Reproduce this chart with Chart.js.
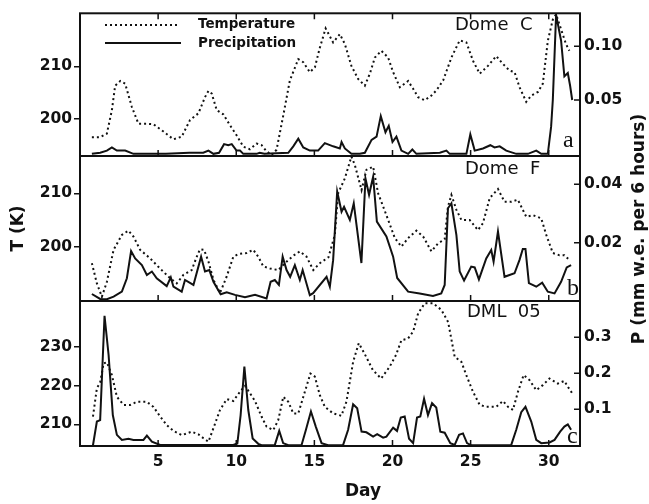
<!DOCTYPE html>
<html>
<head>
<meta charset="utf-8">
<script src="https://cdn.jsdelivr.net/npm/chart.js@4.4.1/dist/chart.umd.min.js"></script>
<style>
  html, body { margin: 0; padding: 0; background: #fff; }
  #wrap { position: relative; width: 649px; height: 504px; }
  #wrap canvas { position: absolute; left: 0; top: 0; }
</style>
</head>
<body>
<div id="wrap">
  <canvas id="panelA" width="649" height="504"></canvas>
  <canvas id="panelB" width="649" height="504"></canvas>
  <canvas id="panelC" width="649" height="504"></canvas>
</div>
<script>
// Three stacked station panels sharing the day axis:
// 6-hourly temperature (dotted, left axis, K) and precipitation (solid, right axis).

const dayTicks = [5, 10, 15, 20, 25, 30];

// --- Dome C ---
const domeCTempDays = [0.76, 1.29, 1.72, 2.04, 2.25, 2.58, 2.89, 3.32, 3.74, 4.28, 4.70, 5.34, 5.98, 6.51, 7.04, 7.58, 8.00, 8.22, 8.43, 8.75,
  9.17, 9.60, 10.02, 10.45, 10.87, 11.30, 11.62, 11.94, 12.26, 12.58, 13.01, 13.43, 13.97, 14.29, 14.71, 15.03, 15.35, 15.72, 16.20, 16.63,
  16.95, 17.37, 17.80, 18.23, 18.55, 18.87, 19.29, 19.72, 20.04, 20.47, 21.00, 21.32, 21.64, 22.06, 22.49, 22.81, 23.24, 23.77, 24.30, 24.73,
  25.15, 25.58, 26.11, 26.64, 27.06, 27.49, 27.81, 28.13, 28.56, 28.88, 29.31, 29.62, 29.94, 30.26, 30.47, 30.89, 31.10, 31.32];
const domeCTemp = [196.4, 196.4, 197.1, 201.6, 206.3, 207.2, 206.7, 202.2, 199.0, 199.0, 198.9, 197.5, 196.0, 196.5, 199.7, 201.0, 204.1, 205.3, 204.8, 201.6,
  200.8, 198.7, 196.8, 194.6, 194.1, 195.2, 194.9, 193.7, 193.0, 194.0, 200.6, 207.3, 211.4, 210.8, 208.9, 209.8, 213.6, 217.3, 214.6, 216.2,
  214.3, 210.1, 207.6, 206.3, 208.6, 211.7, 213.0, 211.7, 208.9, 206.0, 207.2, 205.7, 204.1, 203.5, 204.4, 205.4, 207.3, 211.7, 215.0, 214.6,
  211.1, 208.6, 210.1, 212.0, 210.5, 209.2, 208.9, 206.0, 203.2, 204.4, 205.1, 206.7, 214.9, 219.0, 220.0, 216.2, 214.3, 213.0];
const domeCPrecipDays = [0.76, 1.29, 1.72, 2.04, 2.36, 2.89, 3.42, 5.50, 7.00, 7.89, 8.22, 8.54, 8.90, 9.22, 9.49, 9.71, 10.02, 10.24, 10.45, 11.30,
  11.50, 11.80, 13.33, 13.65, 13.97, 14.29, 14.71, 15.24, 15.67, 16.20, 16.63, 16.74, 16.95, 17.37, 17.91, 18.23, 18.66, 18.98, 19.25, 19.55,
  19.76, 20.00, 20.25, 20.57, 21.00, 21.27, 21.53, 23.03, 23.45, 23.66, 24.73, 24.98, 25.26, 25.79, 26.26, 26.53, 26.86, 27.28, 27.92, 28.67,
  29.20, 29.52, 29.94, 30.15, 30.26, 30.47, 30.79, 31.00, 31.22, 31.37, 31.50];
const domeCPrecip = [0.000, 0.001, 0.003, 0.006, 0.003, 0.003, 0.000, 0.000, 0.001, 0.001, 0.003, 0.000, 0.001, 0.009, 0.008, 0.009, 0.003, 0.003, 0.000, 0.000,
  0.001, 0.000, 0.001, 0.007, 0.014, 0.006, 0.003, 0.003, 0.010, 0.007, 0.005, 0.011, 0.005, 0.000, 0.000, 0.001, 0.013, 0.016, 0.035, 0.020,
  0.026, 0.011, 0.016, 0.003, 0.000, 0.004, 0.000, 0.001, 0.003, 0.000, 0.000, 0.018, 0.003, 0.005, 0.008, 0.006, 0.007, 0.003, 0.000, 0.000,
  0.003, 0.000, 0.000, 0.025, 0.050, 0.129, 0.105, 0.072, 0.075, 0.063, 0.050];
const domeCTempTicks = [200, 210];
const domeCPrecipTicks = [0.05, 0.10];

// --- Dome F ---
const domeFTempDays = [0.76, 1.08, 1.40, 1.72, 2.15, 2.68, 3.10, 3.42, 3.85, 4.49, 5.12, 5.76, 6.19, 6.62, 7.15, 7.47, 7.68, 7.94, 8.22, 8.54,
  8.96, 9.39, 9.81, 10.13, 10.66, 11.09, 11.41, 11.73, 12.16, 12.69, 13.12, 13.65, 14.07, 14.50, 14.93, 15.35, 15.90, 16.31, 16.52, 16.95,
  17.37, 17.59, 18.02, 18.33, 18.76, 19.08, 19.61, 20.15, 20.57, 21.00, 21.53, 21.96, 22.49, 22.91, 23.34, 23.55, 23.77, 24.09, 24.41, 24.94,
  25.47, 25.79, 26.22, 26.75, 27.17, 27.60, 28.02, 28.56, 28.99, 29.52, 29.84, 30.26, 30.68, 31.00, 31.32];
const domeFTemp = [196.9, 193.1, 190.6, 193.4, 199.4, 202.2, 203.0, 201.9, 199.4, 197.8, 195.9, 194.1, 193.1, 194.7, 195.6, 198.1, 199.5, 199.4, 197.2, 193.8,
  191.3, 194.4, 198.1, 198.6, 198.8, 199.4, 198.1, 196.3, 195.9, 195.6, 196.9, 198.3, 199.1, 198.1, 195.6, 196.9, 198.0, 202.2, 210.0, 212.8,
  216.9, 215.3, 210.6, 214.4, 215.0, 210.0, 205.9, 201.6, 200.0, 201.6, 203.0, 201.9, 199.1, 200.6, 201.4, 207.5, 209.7, 206.9, 205.0, 205.0,
  203.1, 204.4, 209.1, 210.8, 208.4, 208.4, 208.8, 205.6, 205.9, 205.3, 202.2, 198.8, 198.4, 198.4, 197.5];
const domeFPrecipDays = [0.76, 1.29, 1.72, 2.15, 2.68, 3.00, 3.27, 3.53, 3.96, 4.28, 4.60, 4.91, 5.55, 5.81, 5.98, 6.51, 6.72, 7.26, 7.75, 8.00,
  8.28, 8.54, 9.00, 9.39, 9.92, 10.56, 11.20, 11.94, 12.20, 12.47, 12.73, 12.97, 13.22, 13.45, 13.75, 14.07, 14.25, 14.71, 14.92, 15.78,
  15.99, 16.20, 16.46, 16.74, 16.90, 17.27, 17.52, 18.01, 18.27, 18.50, 18.76, 19.00, 19.61, 20.04, 20.30, 21.00, 21.74, 22.59, 23.12, 23.34,
  23.55, 23.77, 24.09, 24.30, 24.58, 25.04, 25.26, 25.53, 26.00, 26.32, 26.47, 26.75, 27.17, 27.49, 27.81, 28.13, 28.34, 28.51, 28.73, 29.20,
  29.58, 29.94, 30.37, 30.79, 31.15, 31.43];
const domeFPrecip = [0.0024, 0.0007, 0.0006, 0.0015, 0.0032, 0.0078, 0.0171, 0.0146, 0.0123, 0.0089, 0.0101, 0.0078, 0.0051, 0.0081, 0.0049, 0.0032, 0.0072, 0.0055, 0.0152, 0.0101,
  0.0106, 0.0066, 0.0023, 0.0030, 0.0021, 0.0013, 0.0021, 0.0009, 0.0066, 0.0072, 0.0055, 0.0152, 0.0106, 0.0083, 0.0123, 0.0072, 0.0106, 0.0020, 0.0027, 0.0083,
  0.0049, 0.0140, 0.0375, 0.0306, 0.0323, 0.0278, 0.0335, 0.0130, 0.0420, 0.0364, 0.0426, 0.0272, 0.0221, 0.0152, 0.0079, 0.0032, 0.0026, 0.0017, 0.0026, 0.0055,
  0.0318, 0.0335, 0.0226, 0.0101, 0.0070, 0.0118, 0.0115, 0.0074, 0.0146, 0.0175, 0.0135, 0.0238, 0.0083, 0.0089, 0.0095, 0.0141, 0.0178, 0.0178, 0.0061, 0.0049,
  0.0063, 0.0032, 0.0026, 0.0066, 0.0115, 0.0123];
const domeFTempTicks = [200, 210];
const domeFPrecipTicks = [0.02, 0.04];

// --- DML 05 ---
const dmlTempDays = [0.83, 1.08, 1.29, 1.51, 1.72, 2.04, 2.36, 2.79, 3.21, 3.64, 4.28, 4.70, 5.13, 5.55, 5.98, 6.51, 7.15, 7.58, 7.90, 8.22,
  8.54, 8.96, 9.39, 9.81, 10.24, 10.56, 10.88, 11.20, 11.62, 11.94, 12.37, 12.69, 13.01, 13.33, 13.65, 13.97, 14.39, 14.75, 15.03, 15.35,
  15.67, 16.20, 16.73, 17.05, 17.48, 17.84, 18.20, 18.74, 19.27, 19.81, 20.23, 20.57, 20.99, 21.32, 21.64, 22.06, 22.60, 23.13, 23.56, 23.98,
  24.41, 24.72, 25.15, 25.58, 26.00, 26.64, 27.07, 27.39, 27.71, 28.03, 28.39, 28.77, 29.20, 29.62, 30.05, 30.58, 31.00, 31.22, 31.50];
const dmlTemp = [212.0, 219.3, 220.8, 225.7, 226.0, 222.7, 217.1, 215.0, 215.0, 215.8, 215.8, 214.5, 212.0, 209.8, 208.3, 207.2, 208.1, 207.4, 206.4, 205.5,
  209.0, 213.7, 216.5, 216.0, 218.4, 219.9, 218.0, 216.0, 212.0, 209.4, 208.5, 211.1, 217.1, 215.8, 212.8, 212.8, 218.4, 223.1, 222.3, 217.5,
  214.5, 212.8, 212.2, 215.8, 226.1, 230.9, 228.3, 224.0, 221.8, 224.8, 227.9, 231.7, 232.1, 233.9, 238.6, 241.2, 241.2, 239.5, 236.4, 227.4,
  226.1, 222.7, 218.4, 215.0, 214.5, 214.5, 216.0, 214.5, 213.7, 218.4, 222.7, 221.4, 218.8, 220.1, 221.8, 220.5, 221.2, 219.7, 218.0];
const dmlPrecipDays = [0.83, 1.08, 1.29, 1.57, 1.83, 2.10, 2.36, 2.68, 3.10, 3.42, 4.06, 4.28, 4.60, 5.13, 9.81, 10.07, 10.28, 10.52, 10.77, 11.05,
  11.41, 11.62, 12.47, 12.75, 13.00, 13.33, 14.18, 14.46, 14.78, 15.09, 15.46, 15.88, 16.84, 17.16, 17.48, 17.74, 18.02, 18.33, 18.76, 19.02,
  19.40, 19.61, 20.04, 20.29, 20.53, 20.78, 21.06, 21.32, 21.57, 21.78, 22.02, 22.27, 22.53, 22.80, 23.06, 23.34, 23.70, 23.98, 24.26, 24.51,
  24.77, 25.04, 27.60, 27.92, 28.24, 28.51, 28.88, 29.20, 29.52, 30.05, 30.37, 30.73, 31.00, 31.22, 31.43];
const dmlPrecip = [0.000, 0.066, 0.070, 0.360, 0.251, 0.084, 0.029, 0.015, 0.018, 0.015, 0.015, 0.027, 0.010, 0.001, 0.001, 0.005, 0.084, 0.219, 0.098, 0.019,
  0.004, 0.000, 0.001, 0.040, 0.006, 0.000, 0.001, 0.043, 0.094, 0.052, 0.006, 0.000, 0.001, 0.043, 0.114, 0.103, 0.038, 0.036, 0.024, 0.031,
  0.021, 0.024, 0.049, 0.040, 0.077, 0.080, 0.018, 0.006, 0.077, 0.080, 0.129, 0.084, 0.117, 0.105, 0.038, 0.035, 0.006, 0.001, 0.029, 0.033,
  0.006, 0.000, 0.001, 0.043, 0.092, 0.107, 0.066, 0.015, 0.006, 0.008, 0.015, 0.038, 0.052, 0.058, 0.043];
const dmlTempTicks = [210, 220, 230];
const dmlPrecipTicks = [0.1, 0.2, 0.3];

const INK = '#111';
const FONT = "'DejaVu Sans', sans-serif";
Chart.defaults.font.family = FONT;
Chart.defaults.color = INK;

const pts = (xs, ys) => xs.map((x, i) => ({ x, y: ys[i] }));
const fixedTicks = (vals) => (scale) => { scale.ticks = vals.map(v => ({ value: v })); };
const tickFont = { size: 15.5, weight: 'bold' };

// frame, inward tick marks and the in-panel annotations
const panelDecor = {
  id: 'panelDecor',
  afterDraw(chart, _args, o) {
    const { ctx, chartArea: a, scales } = chart;
    ctx.save();
    ctx.strokeStyle = INK;
    ctx.fillStyle = INK;
    ctx.lineWidth = 2;
    ctx.strokeRect(a.left, a.top, a.right - a.left, a.bottom - a.top);

    ctx.lineWidth = 1.5;
    ctx.beginPath();
    for (const v of dayTicks) {
      const px = scales.x.getPixelForValue(v);
      ctx.moveTo(px, a.bottom); ctx.lineTo(px, a.bottom - 6);
      if (o.topTicks) { ctx.moveTo(px, a.top); ctx.lineTo(px, a.top + 6); }
    }
    for (const v of o.precipTicks) {
      const py = scales.yP.getPixelForValue(v);
      ctx.moveTo(a.right, py); ctx.lineTo(a.right - 6, py);
    }
    ctx.stroke();

    ctx.font = `18px ${FONT}`;
    ctx.textBaseline = 'alphabetic';
    ctx.textAlign = 'left';
    ctx.fillText(o.station, o.stationX, o.stationY);

    ctx.font = "24px 'Liberation Serif', serif";
    ctx.fillText(o.letter, o.letterX, o.letterY);

    if (o.legend) {
      const x0 = a.left + 25, x1 = a.left + 99;
      ctx.lineWidth = 2;
      ctx.setLineDash([2, 3]);
      ctx.beginPath(); ctx.moveTo(x0, 25); ctx.lineTo(x1, 25); ctx.stroke();
      ctx.setLineDash([]);
      ctx.beginPath(); ctx.moveTo(x0, 43); ctx.lineTo(x1 + 2, 43); ctx.stroke();
      ctx.font = `bold 13.5px ${FONT}`;
      ctx.fillText('Temperature', a.left + 118, 28);
      ctx.fillText('Precipitation', a.left + 118, 47);
    }

    if (o.rightTitle) {
      ctx.font = `bold 17px ${FONT}`;
      ctx.textAlign = 'center';
      ctx.textBaseline = 'middle';
      ctx.translate(640, 229);
      ctx.rotate(-Math.PI / 2);
      ctx.fillText(o.rightTitle, 0, 0);
      ctx.setTransform(1, 0, 0, 1, 0, 0);
    }

    if (o.dayTitle) {
      ctx.font = `bold 17px ${FONT}`;
      ctx.textAlign = 'center';
      ctx.textBaseline = 'middle';
      ctx.fillText(o.dayTitle, 363, 492);
    }
    ctx.restore();
  }
};

function makePanel(canvasId, p) {
  return new Chart(document.getElementById(canvasId), {
    type: 'line',
    data: {
      datasets: [
        { label: 'Temperature', data: pts(p.tempDays, p.temp), yAxisID: 'yT',
          borderColor: INK, borderWidth: 2, borderDash: [2, 3], pointRadius: 0, tension: 0 },
        { label: 'Precipitation', data: pts(p.precipDays, p.precip), yAxisID: 'yP',
          borderColor: INK, borderWidth: 2, pointRadius: 0, tension: 0 },
      ],
    },
    options: {
      responsive: false,
      animation: false,
      layout: { padding: { top: p.padTop, bottom: p.padBottom, left: 0, right: 0 } },
      plugins: {
        legend: { display: false },
        tooltip: { enabled: false },
        panelDecor: p.decor,
      },
      scales: {
        x: {
          type: 'linear', min: 0, max: 32,
          display: !!p.showDays,
          afterBuildTicks: fixedTicks(dayTicks),
          // only the bottom panel carries the day labels
          afterFit: (s) => { s.height = p.showDays ? 58 : 0; },
          grid: { display: false, drawTicks: false },
          border: { display: false },
          ticks: { font: tickFont, padding: 7, color: INK, maxRotation: 0 },
        },
        yT: {
          position: 'left', min: p.tMin, max: p.tMax,
          afterBuildTicks: fixedTicks(p.tTicks),
          afterFit: (s) => { s.width = 80; },
          grid: { drawOnChartArea: false, drawTicks: true, tickLength: 6, color: INK, lineWidth: 1.5 },
          border: { display: false },
          ticks: { font: tickFont, padding: 2, color: INK },
          title: { display: !!p.leftTitle, text: p.leftTitle || '', font: { size: 17, weight: 'bold' }, color: INK, padding: { top: 8, bottom: 0 } },
        },
        yP: {
          position: 'right', min: p.pMin, max: p.pMax,
          afterBuildTicks: fixedTicks(p.pTicks),
          afterFit: (s) => { s.width = 69; },
          grid: { display: false, drawTicks: false },
          border: { display: false },
          ticks: { font: tickFont, padding: 4, color: INK, callback: (v) => Number(v).toFixed(p.pDigits) },
        },
      },
    },
    plugins: [panelDecor],
  });
}

makePanel('panelA', {
  tempDays: domeCTempDays, temp: domeCTemp, precipDays: domeCPrecipDays, precip: domeCPrecip,
  tMin: 192.8, tMax: 220.2, tTicks: domeCTempTicks,
  pMin: -0.002, pMax: 0.1305, pTicks: domeCPrecipTicks, pDigits: 2,
  padTop: 12, padBottom: 348,
  decor: { precipTicks: domeCPrecipTicks, topTicks: true, legend: true,
    station: 'Dome  C', stationX: 455, stationY: 30, letter: 'a', letterX: 563, letterY: 147 },
});

makePanel('panelB', {
  tempDays: domeFTempDays, temp: domeFTemp, precipDays: domeFPrecipDays, precip: domeFPrecip,
  tMin: 189.8, tMax: 217.0, tTicks: domeFTempTicks,
  pMin: 0, pMax: 0.0497, pTicks: domeFPrecipTicks, pDigits: 2,
  padTop: 156, padBottom: 203,
  leftTitle: 'T (K)',
  decor: { precipTicks: domeFPrecipTicks, rightTitle: 'P (mm w.e. per 6 hours)',
    station: 'Dome  F', stationX: 465, stationY: 174, letter: 'b', letterX: 567, letterY: 295 },
});

makePanel('panelC', {
  tempDays: dmlTempDays, temp: dmlTemp, precipDays: dmlPrecipDays, precip: dmlPrecip,
  tMin: 204.4, tMax: 241.8, tTicks: dmlTempTicks,
  pMin: -0.002, pMax: 0.401, pTicks: dmlPrecipTicks, pDigits: 1,
  padTop: 301, padBottom: 0,
  showDays: true,
  decor: { precipTicks: dmlPrecipTicks, dayTitle: 'Day',
    station: 'DML  05', stationX: 467, stationY: 317, letter: 'c', letterX: 567, letterY: 443 },
});
</script>
</body>
</html>
